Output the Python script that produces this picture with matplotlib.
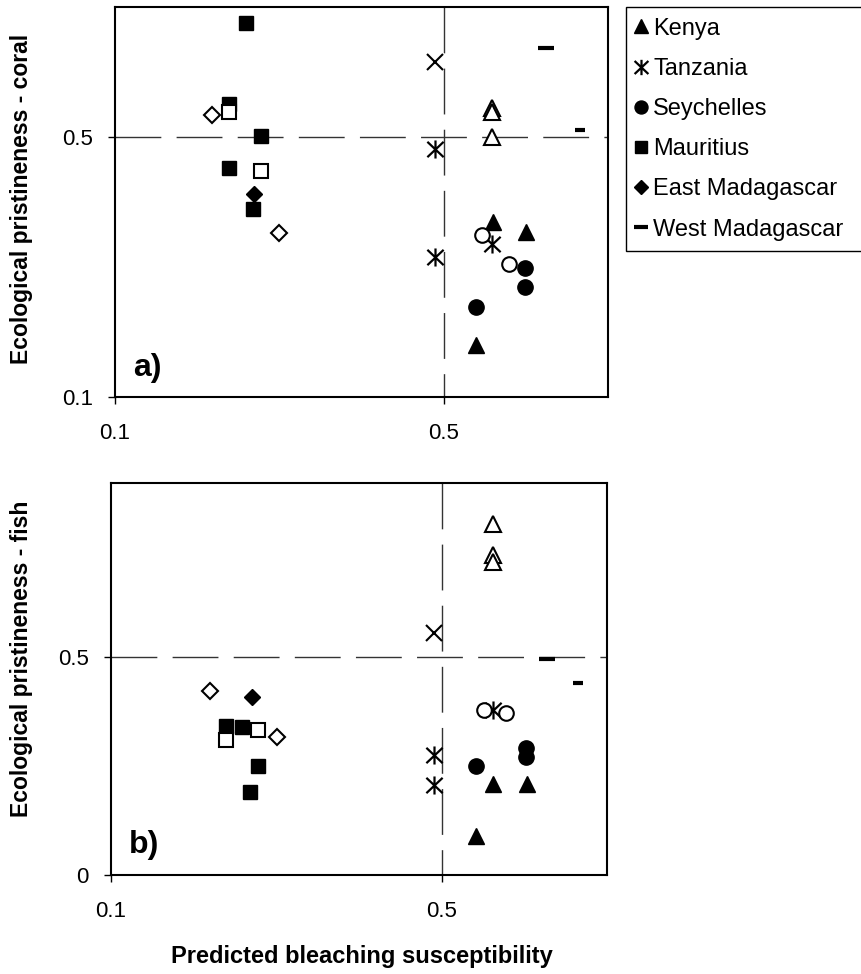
import matplotlib
matplotlib.use("Agg")
from matplotlib import pyplot as plt
from matplotlib.path import Path

plt.rcParams['font.family'] = ['Liberation Sans', 'DejaVu Sans']

# ---- data: (a) coral, filled and open symbols per country ----
kenya_x_a = [0.560, 0.600, 0.539]
kenya_y_a = [0.370, 0.354, 0.180]
kenya_open_x_a = [0.559, 0.559, 0.559]
kenya_open_y_a = [0.544, 0.538, 0.500]
tanz_x_a = [0.490, 0.490, 0.559]
tanz_y_a = [0.482, 0.316, 0.336]
tanz_open_x_a = [0.490]
tanz_open_y_a = [0.616]
sey_x_a = [0.599, 0.599, 0.539]
sey_y_a = [0.299, 0.269, 0.238]
sey_open_x_a = [0.547, 0.579]
sey_open_y_a = [0.349, 0.304]
maur_x_a = [0.259, 0.239, 0.278, 0.239, 0.268]
maur_y_a = [0.675, 0.551, 0.502, 0.453, 0.389]
maur_open_x_a = [0.239, 0.278]
maur_open_y_a = [0.539, 0.447]
emad_x_a = [0.269]
emad_y_a = [0.413]
emad_open_x_a = [0.218, 0.299]
emad_open_y_a = [0.534, 0.353]
wmad_x_a = [0.624]
wmad_y_a = [0.637]
wmad_open_x_a = [0.666]
wmad_open_y_a = [0.511]

# ---- data: (b) fish ----
kenya_x_b = [0.542, 0.562, 0.603]
kenya_y_b = [0.089, 0.209, 0.209]
kenya_open_x_b = [0.562, 0.562, 0.562]
kenya_open_y_b = [0.807, 0.734, 0.719]
tanz_x_b = [0.491, 0.491, 0.562]
tanz_y_b = [0.275, 0.206, 0.380]
tanz_open_x_b = [0.491]
tanz_open_y_b = [0.556]
sey_x_b = [0.602, 0.602, 0.541]
sey_y_b = [0.291, 0.271, 0.251]
sey_open_x_b = [0.551, 0.578]
sey_open_y_b = [0.380, 0.371]
maur_x_b = [0.239, 0.258, 0.278, 0.268]
maur_y_b = [0.343, 0.340, 0.251, 0.191]
maur_open_x_b = [0.239, 0.278]
maur_open_y_b = [0.310, 0.334]
emad_x_b = [0.270]
emad_y_b = [0.409]
emad_open_x_b = [0.220, 0.301]
emad_open_y_b = [0.423, 0.317]
wmad_x_b = [0.627]
wmad_y_b = [0.495]
wmad_open_x_b = [0.665]
wmad_open_y_b = [0.440]

countries = ["Kenya", "Tanzania", "Seychelles", "Mauritius",
             "East Madagascar", "West Madagascar"]
x_ticks = [0.1, 0.5]
x_tick_labels = ["0.1", "0.5"]
y_ticks_a = [0.1, 0.5]
y_tick_labels_a = ["0.1", "0.5"]
y_ticks_b = [0.0, 0.5]
y_tick_labels_b = ["0", "0.5"]
threshold = 0.5

# asterisk marker: vertical bar plus an X
asterisk = Path([(0, -1), (0, 1), (-0.9, -0.85), (0.9, 0.85), (-0.9, 0.85), (0.9, -0.85)],
                [Path.MOVETO, Path.LINETO] * 3)

filled = dict(color='black', linestyle='none', zorder=4)
opened = dict(color='black', markerfacecolor='white', linestyle='none',
              markeredgewidth=1.5, zorder=5)

fig = plt.figure(figsize=(8.61, 9.74), dpi=100)
ax_a = fig.add_axes([0.1336, 0.5924, 0.5726, 0.4004])
ax_b = fig.add_axes([0.1289, 0.1016, 0.5761, 0.4025])


def draw_panel(ax, d, ylim, yticks, yticklabels, tag):
    ax.set_xlim(0.1, 0.7)
    ax.set_ylim(*ylim)
    # dashed reference lines at 0.5
    ax.plot(ax.get_xlim(), [threshold, threshold], color='#333333', lw=1.0,
            dashes=(33, 11), zorder=1)
    ax.plot([threshold, threshold], ax.get_ylim()[::-1], color='#333333', lw=1.0,
            dashes=(33, 11), zorder=1)

    h = []
    h.append(ax.plot(d['kenya'][0], d['kenya'][1], marker='^', ms=12, **filled)[0])
    h.append(ax.plot(d['tanz'][0], d['tanz'][1], marker=asterisk, ms=13,
                     markeredgewidth=1.6, **filled)[0])
    h.append(ax.plot(d['sey'][0], d['sey'][1], marker='o', ms=11, **filled)[0])
    h.append(ax.plot(d['maur'][0], d['maur'][1], marker='s', ms=10.5, **filled)[0])
    h.append(ax.plot(d['emad'][0], d['emad'][1], marker='D', ms=8.5, **filled)[0])
    h.append(ax.plot(d['wmad'][0], d['wmad'][1], marker='_', ms=12,
                     markeredgewidth=3, **filled)[0])

    ax.plot(d['kenya_o'][0], d['kenya_o'][1], marker='^', ms=11.5, **opened)
    ax.plot(d['tanz_o'][0], d['tanz_o'][1], marker='x', ms=12, **opened)
    ax.plot(d['sey_o'][0], d['sey_o'][1], marker='o', ms=10.5, **opened)
    ax.plot(d['maur_o'][0], d['maur_o'][1], marker='s', ms=10, **opened)
    ax.plot(d['emad_o'][0], d['emad_o'][1], marker='D', ms=8, **opened)
    ax.plot(d['wmad_o'][0], d['wmad_o'][1], marker='_', ms=6.5,
            color='black', linestyle='none', markeredgewidth=3, zorder=5)

    ax.set_xticks(x_ticks)
    ax.set_xticklabels(x_tick_labels)
    ax.set_yticks(yticks)
    ax.set_yticklabels(yticklabels)
    ax.tick_params(axis='x', direction='out', length=5, width=1, pad=14, labelsize=16)
    ax.tick_params(axis='y', direction='out', length=5, width=1, pad=11, labelsize=16)
    for s in ax.spines.values():
        s.set_linewidth(1.5)
        s.set_color('black')
    ax.text(0.037, 0.055, tag, transform=ax.transAxes, fontsize=23,
            fontweight='bold', ha='left', va='baseline')
    return h


data_a = {
    'kenya': (kenya_x_a, kenya_y_a), 'kenya_o': (kenya_open_x_a, kenya_open_y_a),
    'tanz': (tanz_x_a, tanz_y_a), 'tanz_o': (tanz_open_x_a, tanz_open_y_a),
    'sey': (sey_x_a, sey_y_a), 'sey_o': (sey_open_x_a, sey_open_y_a),
    'maur': (maur_x_a, maur_y_a), 'maur_o': (maur_open_x_a, maur_open_y_a),
    'emad': (emad_x_a, emad_y_a), 'emad_o': (emad_open_x_a, emad_open_y_a),
    'wmad': (wmad_x_a, wmad_y_a), 'wmad_o': (wmad_open_x_a, wmad_open_y_a),
}
data_b = {
    'kenya': (kenya_x_b, kenya_y_b), 'kenya_o': (kenya_open_x_b, kenya_open_y_b),
    'tanz': (tanz_x_b, tanz_y_b), 'tanz_o': (tanz_open_x_b, tanz_open_y_b),
    'sey': (sey_x_b, sey_y_b), 'sey_o': (sey_open_x_b, sey_open_y_b),
    'maur': (maur_x_b, maur_y_b), 'maur_o': (maur_open_x_b, maur_open_y_b),
    'emad': (emad_x_b, emad_y_b), 'emad_o': (emad_open_x_b, emad_open_y_b),
    'wmad': (wmad_x_b, wmad_y_b), 'wmad_o': (wmad_open_x_b, wmad_open_y_b),
}

handles = draw_panel(ax_a, data_a, (0.1, 0.7), y_ticks_a, y_tick_labels_a, "a)")
draw_panel(ax_b, data_b, (0.0, 0.9), y_ticks_b, y_tick_labels_b, "b)")

# axis titles
fig.text(22 / 861, 1 - 199 / 974, "Ecological pristineness - coral", rotation=90,
         fontsize=16.5, fontweight='bold', ha='center', va='center')
fig.text(22 / 861, 1 - 659 / 974, "Ecological pristineness - fish", rotation=90,
         fontsize=16.5, fontweight='bold', ha='center', va='center')
fig.text(362 / 861, 1 - 957 / 974, "Predicted bleaching susceptibility",
         fontsize=17, fontweight='bold', ha='center', va='center')

leg = fig.legend(handles, countries, loc='upper left',
                 bbox_to_anchor=(626 / 861, 0.70, 0.30, 1 - 7 / 974 - 0.70),
                 mode='expand', borderaxespad=0, fontsize=17, markerscale=0.85,
                 handlelength=0.35, handletextpad=0.35, labelspacing=0.77,
                 borderpad=0.45, fancybox=False, framealpha=1)
leg.get_frame().set_edgecolor('black')
leg.get_frame().set_linewidth(1.0)

fig.savefig("out.png", dpi=100)
